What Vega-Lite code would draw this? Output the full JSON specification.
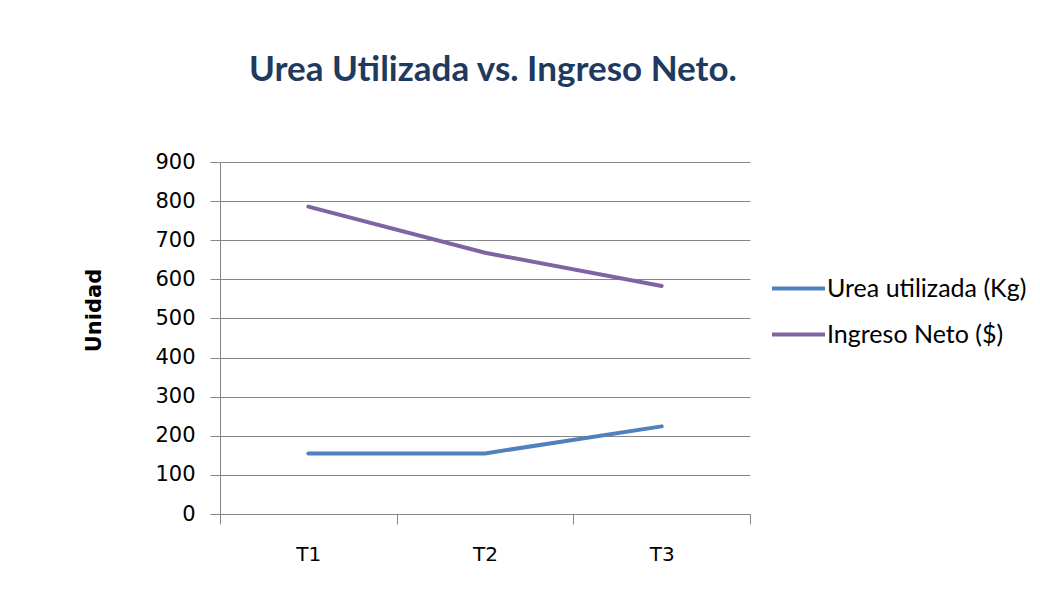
{
  "$schema": "https://vega.github.io/schema/vega-lite/v6.json",
  "width": 530,
  "height": 352,
  "autosize": {"type": "none"},
  "padding": {"left": 220, "top": 162, "right": 290, "bottom": 90},
  "background": "white",
  "title": {
    "text": "Urea Utilizada vs. Ingreso Neto.",
    "font": "Lato",
    "fontSize": 35,
    "fontWeight": "bold",
    "color": "#1F3A5F",
    "anchor": "middle",
    "dx": 8,
    "offset": 63
  },
  "data": {
    "values": [
      {"serie": "Urea utilizada (Kg)", "periodo": "T1", "valor": 155},
      {"serie": "Urea utilizada (Kg)", "periodo": "T2", "valor": 155},
      {"serie": "Urea utilizada (Kg)", "periodo": "T3", "valor": 224},
      {"serie": "Ingreso Neto ($)", "periodo": "T1", "valor": 786},
      {"serie": "Ingreso Neto ($)", "periodo": "T2", "valor": 668},
      {"serie": "Ingreso Neto ($)", "periodo": "T3", "valor": 583}
    ]
  },
  "mark": {"type": "line", "strokeWidth": 4, "strokeCap": "round"},
  "encoding": {
    "x": {
      "field": "periodo",
      "type": "nominal",
      "scale": {"paddingInner": 0, "paddingOuter": 0},
      "axis": {
        "title": null,
        "labelAngle": 0,
        "labelFont": "DejaVu Sans",
        "labelFontSize": 20,
        "labelColor": "#000000",
        "labelPadding": 20,
        "tickBand": "extent",
        "tickSize": 10,
        "tickColor": "#868686",
        "domainColor": "#868686",
        "grid": false
      }
    },
    "y": {
      "field": "valor",
      "type": "quantitative",
      "scale": {"domain": [0, 900], "nice": false},
      "axis": {
        "title": "Unidad",
        "titleFont": "DejaVu Sans",
        "titleFontSize": 21,
        "titleFontWeight": "bold",
        "titleColor": "#000000",
        "titlePadding": 50,
        "titleY": 148,
        "values": [0, 100, 200, 300, 400, 500, 600, 700, 800, 900],
        "labelFont": "DejaVu Sans",
        "labelFontSize": 21,
        "labelColor": "#000000",
        "labelPadding": 15,
        "tickSize": 10,
        "tickColor": "#868686",
        "domainColor": "#868686",
        "grid": true,
        "gridColor": "#868686",
        "gridWidth": 1
      }
    },
    "color": {
      "field": "serie",
      "type": "nominal",
      "sort": ["Urea utilizada (Kg)", "Ingreso Neto ($)"],
      "scale": {
        "domain": ["Urea utilizada (Kg)", "Ingreso Neto ($)"],
        "range": ["#4F81BD", "#8064A2"]
      },
      "legend": {
        "title": null,
        "orient": "none",
        "legendX": 550,
        "legendY": 98,
        "symbolType": "stroke",
        "symbolSize": 2809,
        "symbolStrokeWidth": 4,
        "labelFont": "Lato",
        "labelFontSize": 25,
        "labelLimit": 400,
        "labelColor": "#000000",
        "labelOffset": 0,
        "rowPadding": 4
      }
    }
  },
  "config": {"view": {"stroke": null}}
}
